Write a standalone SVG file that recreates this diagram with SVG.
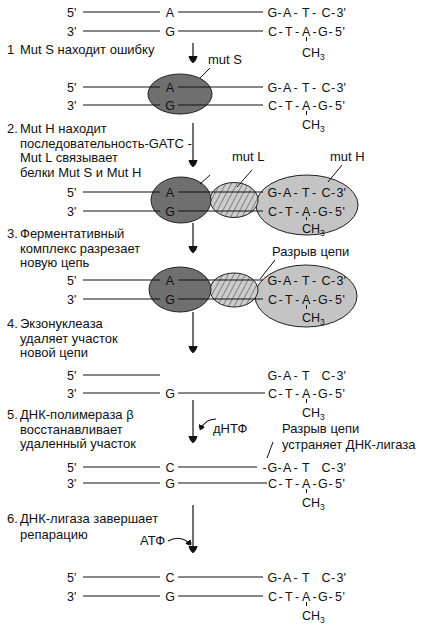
<svg xmlns="http://www.w3.org/2000/svg" width="421" height="627" viewBox="0 0 421 627">
<defs>
<style>
.st{font-family:"Liberation Sans",Arial,sans-serif;font-size:13px;fill:#111}
.sq{font-family:"Liberation Sans",Arial,sans-serif;font-size:12.5px;fill:#111}
.lb{font-family:"Liberation Sans",Arial,sans-serif;font-size:13px;fill:#111}
.sub{font-size:8.5px}
.ln{stroke:#111;stroke-width:1;fill:none}
.dk{fill:#6f6f6f;stroke:#222;stroke-width:1}
.lt{fill:#c4c4c4;stroke:#222;stroke-width:1}
.ht{fill:url(#hatch);stroke:#222;stroke-width:1}
.arr{stroke:#111;stroke-width:1.2;fill:none;marker-end:url(#ah)}
.carr{stroke:#111;stroke-width:1.1;fill:none;marker-end:url(#ahs)}
</style>
<pattern id="hatch" patternUnits="userSpaceOnUse" width="5" height="5" patternTransform="rotate(28)">
<rect width="5" height="5" fill="#cdcdcd"/>
<line x1="0" y1="0" x2="0" y2="5" stroke="#222" stroke-width="0.9"/>
</pattern>
<marker id="ah" markerUnits="userSpaceOnUse" viewBox="0 -5 8 10" markerWidth="8" markerHeight="10" refX="7" refY="0" orient="auto">
<path d="M0,-4.5 Q5,-3.5 7,0 Q5,3.5 0,4.5 Z" fill="#111"/>
</marker>
<marker id="ahs" markerUnits="userSpaceOnUse" viewBox="0 -4 6 8" markerWidth="6" markerHeight="8" refX="5" refY="0" orient="auto">
<path d="M0,-3.2 Q4,-2.4 5,0 Q4,2.4 0,3.2 Z" fill="#111"/>
</marker>
</defs>

<!-- Step labels -->
<g id="step1">
<text class="st" x="7" y="54">1</text>
<text class="st" x="20" y="54">Mut S находит ошибку</text>
</g>
<g id="step2">
<text class="st" x="7" y="133">2.</text>
<text class="st" x="20" y="133">Mut H находит</text>
<text class="st" x="20" y="147.5">последовательность-GATC -</text>
<text class="st" x="20" y="162">Mut L связывает</text>
<text class="st" x="20" y="176.5">белки Mut S и Mut H</text>
</g>
<g id="step3">
<text class="st" x="7" y="238">3.</text>
<text class="st" x="20" y="238">Ферментативный</text>
<text class="st" x="20" y="252.5">комплекс разрезает</text>
<text class="st" x="20" y="267">новую цепь</text>
</g>
<g id="step4">
<text class="st" x="7" y="328">4.</text>
<text class="st" x="20" y="328">Экзонуклеаза</text>
<text class="st" x="20" y="342.5">удаляет участок</text>
<text class="st" x="20" y="357">новой цепи</text>
</g>
<g id="step5">
<text class="st" x="7" y="419">5.</text>
<text class="st" x="20" y="419">ДНК-полимераза β</text>
<text class="st" x="20" y="433.5">восстанавливает</text>
<text class="st" x="20" y="448">удаленный участок</text>
</g>
<g id="step6">
<text class="st" x="7" y="523">6.</text>
<text class="st" x="20" y="523">ДНК-лигаза завершает</text>
<text class="st" x="20" y="538.5">репарацию</text>
</g>

<!-- Enzymes -->
<g id="enz1">
<ellipse class="dk" cx="180" cy="94" rx="32" ry="20"/>
<text class="lb" x="208" y="64">mut S</text>
</g>
<g id="enz2">
<ellipse class="lt" cx="307" cy="205" rx="51" ry="30"/>
<ellipse class="ht" cx="234" cy="200" rx="24" ry="17.5"/>
<ellipse class="dk" cx="181" cy="200" rx="30" ry="23"/>
<text class="lb" x="232" y="161">mut L</text>
<text class="lb" x="330" y="161">mut H</text>
</g>
<g id="enz3">
<ellipse class="lt" cx="306" cy="296" rx="51" ry="31"/>
<ellipse class="ht" cx="234" cy="290" rx="24" ry="17"/>
<ellipse class="dk" cx="180" cy="289.5" rx="31" ry="22.5"/>
<text class="lb" x="272" y="256">Разрыв цепи</text>
</g>

<!-- DNA rows -->
<g id="dna0">
<text class="sq" x="67" y="16.5">5'</text>
<text class="sq" x="67" y="35.5">3'</text>
<line class="ln" x1="83" y1="12" x2="160" y2="12"/><line class="ln" x1="178" y1="12" x2="263" y2="12"/>
<line class="ln" x1="83" y1="31" x2="160" y2="31"/><line class="ln" x1="178" y1="31" x2="263" y2="31"/>
<text class="sq" x="170" y="16.5" text-anchor="middle">A</text>
<text class="sq" x="170" y="35.5" text-anchor="middle">G</text>
<text class="sq" x="267.5 277.5 283 293.5 302 312 321.5 331 336.5 343.5" y="16.5">G-A-T-C-3'</text>
<text class="sq" x="268 278.5 285 295 302 312.5 318 328.5 335 342.5" y="35.5">C-T-A-G-5'</text>
<line class="ln" x1="306.5" y1="37" x2="306.5" y2="41"/>
<text class="sq" x="302" y="56.5">CH<tspan class="sub" dy="3">3</tspan></text>
</g>
<g id="dna1">
<text class="sq" x="67" y="91.5">5'</text>
<text class="sq" x="67" y="109.5">3'</text>
<line class="ln" x1="83" y1="87" x2="160" y2="87"/><line class="ln" x1="178" y1="87" x2="263" y2="87"/>
<line class="ln" x1="83" y1="105" x2="160" y2="105"/><line class="ln" x1="178" y1="105" x2="263" y2="105"/>
<text class="sq" x="170" y="91.5" text-anchor="middle">A</text>
<text class="sq" x="170" y="109.5" text-anchor="middle">G</text>
<text class="sq" x="267.5 277.5 283 293.5 302 312 321.5 331 336.5 343.5" y="91.5">G-A-T-C-3'</text>
<text class="sq" x="268 278.5 285 295 302 312.5 318 328.5 335 342.5" y="109.5">C-T-A-G-5'</text>
<line class="ln" x1="306.5" y1="111" x2="306.5" y2="115"/>
<text class="sq" x="302" y="128.5">CH<tspan class="sub" dy="3">3</tspan></text>
</g>
<g id="dna2">
<text class="sq" x="67" y="196.5">5'</text>
<text class="sq" x="67" y="215.5">3'</text>
<line class="ln" x1="83" y1="192" x2="160" y2="192"/><line class="ln" x1="178" y1="192" x2="263" y2="192"/>
<line class="ln" x1="83" y1="211" x2="160" y2="211"/><line class="ln" x1="178" y1="211" x2="263" y2="211"/>
<text class="sq" x="170" y="196.5" text-anchor="middle">A</text>
<text class="sq" x="170" y="215.5" text-anchor="middle">G</text>
<text class="sq" x="267.5 277.5 283 293.5 302 312 321.5 331 336.5 343.5" y="196.5">G-A-T-C-3'</text>
<text class="sq" x="268 278.5 285 295 302 312.5 318 328.5 335 342.5" y="215.5">C-T-A-G-5'</text>
<line class="ln" x1="306.5" y1="217" x2="306.5" y2="220"/>
<text class="sq" x="302" y="232.5">CH<tspan class="sub" dy="3">3</tspan></text>
</g>
<g id="dna3">
<text class="sq" x="67" y="284.5">5'</text>
<text class="sq" x="67" y="303.5">3'</text>
<line class="ln" x1="83" y1="280" x2="160" y2="280"/><line class="ln" x1="178" y1="280" x2="263" y2="280"/>
<line class="ln" x1="83" y1="299" x2="160" y2="299"/><line class="ln" x1="178" y1="299" x2="263" y2="299"/>
<text class="sq" x="170" y="284.5" text-anchor="middle">A</text>
<text class="sq" x="170" y="303.5" text-anchor="middle">G</text>
<text class="sq" x="267.5 277.5 283 293.5 302 312 321.5 331 336.5 343.5" y="284.5">G-A-T-C-3'</text>
<text class="sq" x="268 278.5 285 295 302 312.5 318 328.5 335 342.5" y="303.5">C-T-A-G-5'</text>
<line class="ln" x1="306.5" y1="305" x2="306.5" y2="309"/>
<text class="sq" x="302" y="321.5">CH<tspan class="sub" dy="3">3</tspan></text>
</g>
<g id="dna4">
<text class="sq" x="67" y="379.5">5'</text>
<text class="sq" x="67" y="397.5">3'</text>
<line class="ln" x1="83" y1="375" x2="160" y2="375"/>
<line class="ln" x1="83" y1="393" x2="160" y2="393"/><line class="ln" x1="178" y1="393" x2="265" y2="393"/>
<text class="sq" x="170" y="397.5" text-anchor="middle">G</text>
<text class="sq" x="267.5 277.5 283 293.5 302 312 321.5 331 336.5 343.5" y="379.5">G-A-T C-3'</text>
<text class="sq" x="268 278.5 285 295 302 312.5 318 328.5 335 342.5" y="397.5">C-T-A-G-5'</text>
<line class="ln" x1="306.5" y1="399" x2="306.5" y2="403"/>
<text class="sq" x="302" y="416.5">CH<tspan class="sub" dy="3">3</tspan></text>
</g>
<g id="dna5">
<text class="sq" x="67" y="471.5">5'</text>
<text class="sq" x="67" y="487.5">3'</text>
<line class="ln" x1="83" y1="467" x2="160" y2="467"/><line class="ln" x1="178" y1="467" x2="257" y2="467"/>
<line class="ln" x1="83" y1="483" x2="160" y2="483"/><line class="ln" x1="178" y1="483" x2="267" y2="483"/>
<text class="sq" x="170" y="471.5" text-anchor="middle">C</text>
<text class="sq" x="170" y="487.5" text-anchor="middle">G</text>
<text class="sq" x="262.5 267.5 277.5 283 293.5 302 312 321.5 331 336.5 343.5" y="471.5">-G-A-T C-3'</text>
<text class="sq" x="268 278.5 285 295 302 312.5 318 328.5 335 342.5" y="487.5">C-T-A-G-5'</text>
<line class="ln" x1="306.5" y1="489" x2="306.5" y2="493"/>
<text class="sq" x="302" y="506.5">CH<tspan class="sub" dy="3">3</tspan></text>
<text class="lb" x="282" y="433">Разрыв цепи</text>
<text class="lb" x="282" y="449">устраняет ДНК-лигаза</text>
</g>
<g id="dna6">
<text class="sq" x="67" y="581.5">5'</text>
<text class="sq" x="67" y="600.5">3'</text>
<line class="ln" x1="83" y1="577" x2="160" y2="577"/><line class="ln" x1="178" y1="577" x2="263" y2="577"/>
<line class="ln" x1="83" y1="596" x2="160" y2="596"/><line class="ln" x1="178" y1="596" x2="263" y2="596"/>
<text class="sq" x="170" y="581.5" text-anchor="middle">C</text>
<text class="sq" x="170" y="600.5" text-anchor="middle">G</text>
<text class="sq" x="267.5 277.5 283 293.5 302 312 321.5 331 336.5 343.5" y="581.5">G-A-T C-3'</text>
<text class="sq" x="268 278.5 285 295 302 312.5 318 328.5 335 342.5" y="600.5">C-T-A-G-5'</text>
<line class="ln" x1="306.5" y1="602" x2="306.5" y2="606"/>
<text class="sq" x="302" y="619.5">CH<tspan class="sub" dy="3">3</tspan></text>
</g>
<g id="cofactors">
<text class="lb" x="213" y="433">дНТФ</text>
<text class="lb" x="140" y="545">АТФ</text>
</g>

<!-- Connectors -->
<g id="connectors">
<line class="arr" x1="193" y1="43" x2="193" y2="63"/>
<line class="arr" x1="193" y1="123" x2="193" y2="167"/>
<line class="arr" x1="193" y1="223" x2="193" y2="253"/>
<line class="arr" x1="193" y1="312" x2="193" y2="353"/>
<line class="arr" x1="193" y1="400" x2="193" y2="443"/>
<line class="arr" x1="193" y1="505" x2="193" y2="553"/>
<path class="carr" d="M216,419 Q205,419 200,430"/>
<path class="carr" d="M168,541 Q181,534 191,545"/>
<line class="ln" x1="210" y1="68" x2="200" y2="78"/>
<line class="ln" x1="210" y1="175" x2="200" y2="184"/>
<line class="ln" x1="252" y1="170" x2="237" y2="187"/>
<line class="ln" x1="342" y1="165" x2="328" y2="182"/>
<line class="ln" x1="275" y1="260" x2="260" y2="279"/>
<line class="ln" x1="273" y1="442" x2="267" y2="458"/>
</g>
</svg>
